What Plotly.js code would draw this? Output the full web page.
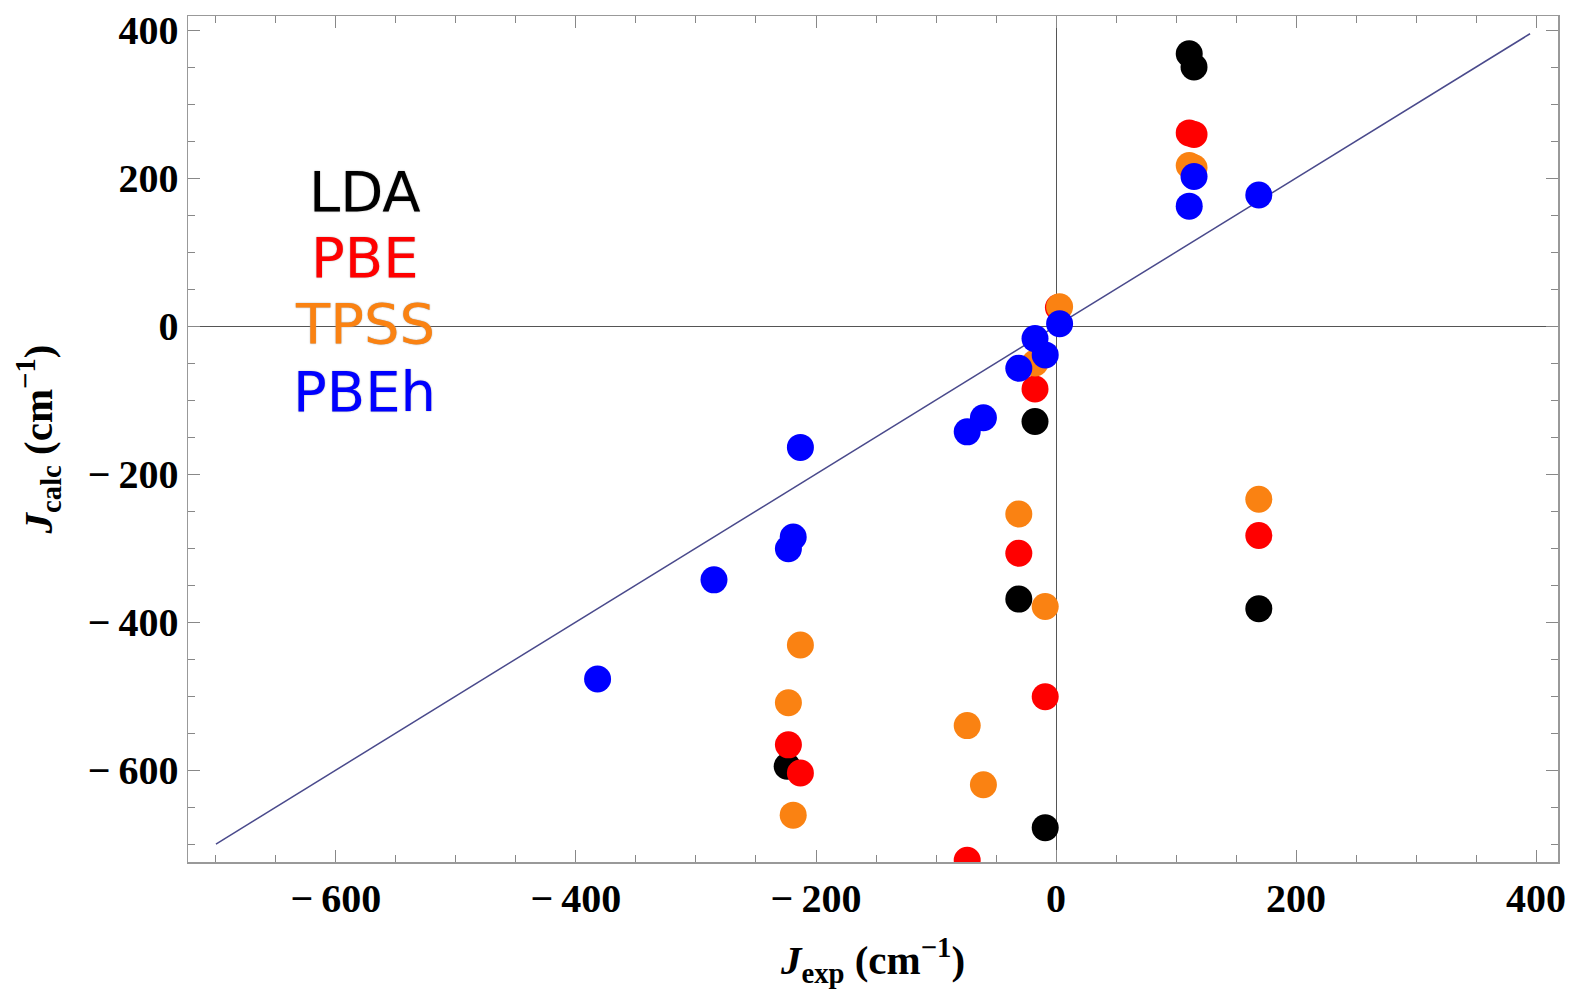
<!DOCTYPE html>
<html>
<head>
<meta charset="utf-8">
<script src="https://cdn.plot.ly/plotly-3.0.1.min.js"></script>
<style>html,body{margin:0;padding:0;background:#fff;}#chart{width:1571px;height:989px;}</style>
</head>
<body>
<div id="chart"></div>
<script>
// Series names and colours
var seriesNames = ["LDA", "PBE", "TPSS", "PBEh"];
var seriesColors = ["#000000", "#FF0000", "#FA8212", "#0000FF"];

// Experimental J (x) and calculated J (y) for each functional (visible points only)
var ldaX  = [-224, -31, -17.5, -9, 111, 115, 169];
var ldaY  = [-595, -369, -129, -678, 368, 350, -382];

var pbeX  = [-223, -213, -74, -31, -17.5, -9, 2, 111, 115, 169];
var pbeY  = [-566, -604, -722, -307, -85, -501, 25, 261, 259, -283];

var tpssX = [-223, -219, -213, -74, -60.5, -31, -17.5, -9, 3, 111, 115, 169];
var tpssY = [-509, -661, -431, -540, -620, -254, -50, -379, 26, 217, 214, -234];

var pbehX = [-382, -285, -223, -219, -213, -74, -60.5, -31, -17.5, -9, 3, 111, 115, 169];
var pbehY = [-477, -343, -301, -285, -164, -143, -124, -57, -17, -39, 3, 162, 202, 177];

// Ideal agreement line J_calc = J_exp
var idealX = [-700, 395];
var idealY = [-700, 395];

// Tick values and labels
var tickVals = [-600, -400, -200, 0, 200, 400];
var tickText = ["\u2212\u2009600", "\u2212\u2009400", "\u2212\u2009200", "0", "200", "400"];

var xs = [ldaX, pbeX, tpssX, pbehX];
var ys = [ldaY, pbeY, tpssY, pbehY];

var traces = [{
  x: idealX, y: idealY, mode: "lines", type: "scatter",
  line: {color: "#4a4a8c", width: 1.5}, hoverinfo: "skip", showlegend: false
}];
for (var i = 0; i < seriesNames.length; i++) {
  traces.push({
    x: xs[i], y: ys[i], name: seriesNames[i], mode: "markers", type: "scatter",
    marker: {color: seriesColors[i], size: 27, line: {width: 0}},
    showlegend: false, cliponaxis: true
  });
}

var axisCommon = {
  tickmode: "array", tickvals: tickVals, ticktext: tickText,
  ticks: "inside", ticklen: 12, tickwidth: 1, tickcolor: "#888",
  minor: {dtick: 50, ticks: "inside", ticklen: 7, tickwidth: 1, tickcolor: "#888"},
  showline: true, linecolor: "#999", linewidth: 1.5, mirror: "ticks",
  showgrid: false, zeroline: true, zerolinecolor: "#555", zerolinewidth: 1,
  tickfont: {family: "Liberation Serif", size: 40, color: "#000", weight: "bold"},
  automargin: false
};

var annotations = [];
var annY = [0.792, 0.714, 0.637, 0.556];
for (var j = 0; j < seriesNames.length; j++) {
  annotations.push({
    text: seriesNames[j], xref: "paper", yref: "paper", x: 0.129, y: annY[j],
    xanchor: "center", yanchor: "middle", showarrow: false,
    font: {family: "DejaVu Sans", size: 56, color: seriesColors[j], shadow: "0px 0px 1.5px #999"}
  });
}

var titleFont = {family: "Liberation Serif", size: 41, color: "#000"};
var layout = {
  width: 1571, height: 989,
  margin: {l: 188, r: 13, t: 16, b: 127},
  paper_bgcolor: "#fff", plot_bgcolor: "#fff",
  showlegend: false,
  xaxis: Object.assign({}, axisCommon, {
    range: [-723.3, 418.3],
    title: {text: "<b><i>J</i><sub>exp</sub> (cm<sup>\u22121</sup>)</b>", font: titleFont, standoff: 34}
  }),
  yaxis: Object.assign({}, axisCommon, {
    range: [-724.3, 419],
    title: {text: "<b><i>J</i><sub>calc</sub> (cm<sup>\u22121</sup>)</b>", font: titleFont, standoff: 22}
  }),
  annotations: annotations
};

Plotly.newPlot("chart", traces, layout, {displayModeBar: false, staticPlot: true});
</script>
</body>
</html>
